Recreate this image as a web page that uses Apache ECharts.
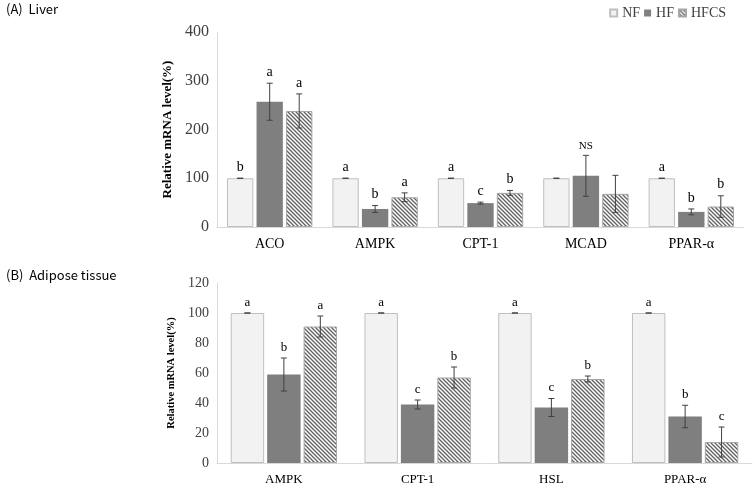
<!DOCTYPE html>
<html>
<head>
<meta charset="utf-8">
<script src="https://cdn.jsdelivr.net/npm/echarts@6/dist/echarts.min.js"></script>
<style>html,body{margin:0;padding:0;background:#fff}#c{width:756px;height:486px}</style>
</head>
<body>
<div id="c"></div>
<script>
// ---- Data ----
const seriesNames = ['NF', 'HF', 'HFCS'];

const liverCats = ['ACO', 'AMPK', 'CPT-1', 'MCAD', 'PPAR-α'];
const liverNF = [100, 100, 100, 100, 100];
const liverHF = [257, 37, 49, 105, 31];
const liverHFCS = [238, 61, 70, 68, 42];
const liverNFErr = [0, 0, 0, 0, 0];
const liverHFErr = [38, 7, 2, 42, 6];
const liverHFCSErr = [35, 9, 5, 38, 22];
const liverNFSig = ['b', 'a', 'a', '', 'a'];
const liverHFSig = ['a', 'b', 'c', 'NS', 'b'];
const liverHFCSSig = ['a', 'a', 'b', '', 'b'];
const liverTicks = [0, 100, 200, 300, 400];

const adiCats = ['AMPK', 'CPT-1', 'HSL', 'PPAR-α'];
const adiNF = [100, 100, 100, 100];
const adiHF = [59, 39, 37, 31];
const adiHFCS = [91, 57, 56, 14];
const adiNFErr = [0, 0, 0, 0];
const adiHFErr = [11, 3, 6, 7.5];
const adiHFCSErr = [7, 7, 2, 10];
const adiNFSig = ['a', 'a', 'a', 'a'];
const adiHFSig = ['b', 'c', 'c', 'b'];
const adiHFCSSig = ['a', 'b', 'b', 'c'];
const adiTicks = [0, 20, 40, 60, 80, 100, 120];

// ---- Styling ----
const SERIF = 'Liberation Serif';
const TXT = '#404040';

function hatch() {
  const s = 4;
  const c = document.createElement('canvas');
  c.width = s; c.height = s;
  const g = c.getContext('2d');
  g.fillStyle = '#ffffff';
  g.fillRect(0, 0, s, s);
  g.strokeStyle = '#606060';
  g.lineWidth = 1.3;
  g.beginPath();
  g.moveTo(-1, -1); g.lineTo(s + 1, s + 1);
  g.moveTo(-1, s - 1); g.lineTo(1, s + 1);
  g.moveTo(s - 1, -1); g.lineTo(s + 1, 1);
  g.stroke();
  return c;
}
const hatchPattern = { image: hatch(), repeat: 'repeat' };

const styles = [
  { color: '#f2f2f2', borderColor: '#bfbfbf', borderWidth: 1 },
  { color: '#7f7f7f', borderColor: '#7f7f7f', borderWidth: 0 },
  { color: hatchPattern, borderColor: '#a6a6a6', borderWidth: 1 }
];

function errSeries(gridIdx, vals, errs, sigs, barFrac, gapFrac, fontSize) {
  const data = [];
  for (let k = 0; k < 3; k++) {
    for (let i = 0; i < vals[k].length; i++) {
      data.push([i, k, vals[k][i], errs[k][i]]);
    }
  }
  return {
    type: 'custom',
    name: 'err' + gridIdx,
    xAxisIndex: gridIdx,
    yAxisIndex: gridIdx,
    z: 5,
    silent: true,
    encode: { x: 0, y: 2 },
    data: data,
    renderItem: function (params, api) {
      const cat = api.value(0), k = api.value(1), v = api.value(2), e = api.value(3);
      const band = api.size([1, 0])[0];
      const bw = band * barFrac;
      const gap = bw * gapFrac;
      const c = api.coord([cat, v]);
      const x = c[0] + (k - 1) * (bw + gap);
      const yT = api.coord([cat, v + e])[1];
      const yB = api.coord([cat, v - e])[1];
      const cap = 3;
      const ls = { stroke: '#404040', lineWidth: 1 };
      const children = [
        { type: 'line', shape: { x1: x, y1: yT, x2: x, y2: yB }, style: ls },
        { type: 'line', shape: { x1: x - cap, y1: yT, x2: x + cap, y2: yT }, style: ls },
        { type: 'line', shape: { x1: x - cap, y1: yB, x2: x + cap, y2: yB }, style: ls }
      ];
      const sig = sigs[k][cat];
      if (sig) {
        const fs = sig === 'NS' ? fontSize - 3 : fontSize;
        children.push({
          type: 'text',
          style: {
            x: x, y: yT - 4, text: sig, fill: '#000',
            font: fs + 'px "' + SERIF + '"',
            align: 'center', verticalAlign: 'bottom'
          }
        });
      }
      return { type: 'group', children: children };
    }
  };
}

const series = [];
const liverVals = [liverNF, liverHF, liverHFCS];
const adiVals = [adiNF, adiHF, adiHFCS];
for (let k = 0; k < 3; k++) {
  series.push({
    type: 'bar', name: seriesNames[k], xAxisIndex: 0, yAxisIndex: 0,
    data: liverVals[k], barWidth: '25%', barGap: '12%',
    itemStyle: styles[k]
  });
}
for (let k = 0; k < 3; k++) {
  series.push({
    type: 'bar', name: seriesNames[k], xAxisIndex: 1, yAxisIndex: 1,
    data: adiVals[k], barWidth: '25%', barGap: '9%',
    itemStyle: styles[k]
  });
}
series.push(errSeries(0, liverVals, [liverNFErr, liverHFErr, liverHFCSErr],
  [liverNFSig, liverHFSig, liverHFCSSig], 0.25, 0.12, 14));
series.push(errSeries(1, adiVals, [adiNFErr, adiHFErr, adiHFCSErr],
  [adiNFSig, adiHFSig, adiHFCSSig], 0.25, 0.09, 13));

function yAx(gridIdx, ticks, fs, nameFs, gapName) {
  return {
    type: 'value', gridIndex: gridIdx,
    min: ticks[0], max: ticks[ticks.length - 1], interval: ticks[1] - ticks[0],
    name: 'Relative mRNA level(%)', nameLocation: 'middle', nameGap: gapName,
    nameTextStyle: { fontFamily: SERIF, fontWeight: 'bold', fontSize: nameFs, color: '#000' },
    axisLine: { show: true, lineStyle: { color: '#d9d9d9' } },
    axisTick: { show: false },
    splitLine: { show: false },
    axisLabel: { fontFamily: SERIF, fontSize: fs, color: TXT, margin: 8 }
  };
}
function xAx(gridIdx, cats, fs) {
  return {
    type: 'category', gridIndex: gridIdx, data: cats,
    axisLine: { lineStyle: { color: '#d9d9d9' } },
    axisTick: { show: false },
    axisLabel: { fontFamily: SERIF, fontSize: fs, color: '#000', margin: 10 }
  };
}

const chart = echarts.init(document.getElementById('c'));
chart.setOption({
  animation: false,
  backgroundColor: '#fff',
  title: [
    { text: '(A)  Liver', left: 6, top: 3, padding: 0,
      textStyle: { fontFamily: 'Noto Sans CJK KR', fontWeight: 'normal', fontSize: 13, color: '#000' } },
    { text: '(B)  Adipose tissue', left: 6, top: 269, padding: 0,
      textStyle: { fontFamily: 'Noto Sans CJK KR', fontWeight: 'normal', fontSize: 13, color: '#000' } }
  ],
  legend: {
    data: seriesNames, right: 30, top: 6, itemWidth: 7, itemHeight: 7, itemGap: 4,
    icon: 'rect', padding: 0,
    textStyle: { fontFamily: SERIF, fontSize: 14, color: TXT }
  },
  grid: [
    { left: 217, right: 12, top: 32, bottom: 259 },
    { left: 217, right: 4, top: 283, bottom: 21 }
  ],
  xAxis: [xAx(0, liverCats, 14), xAx(1, adiCats, 13)],
  yAxis: [yAx(0, liverTicks, 16, 13, 33), yAx(1, adiTicks, 14, 10.5, 34)],
  series: series
});
</script>
</body>
</html>
